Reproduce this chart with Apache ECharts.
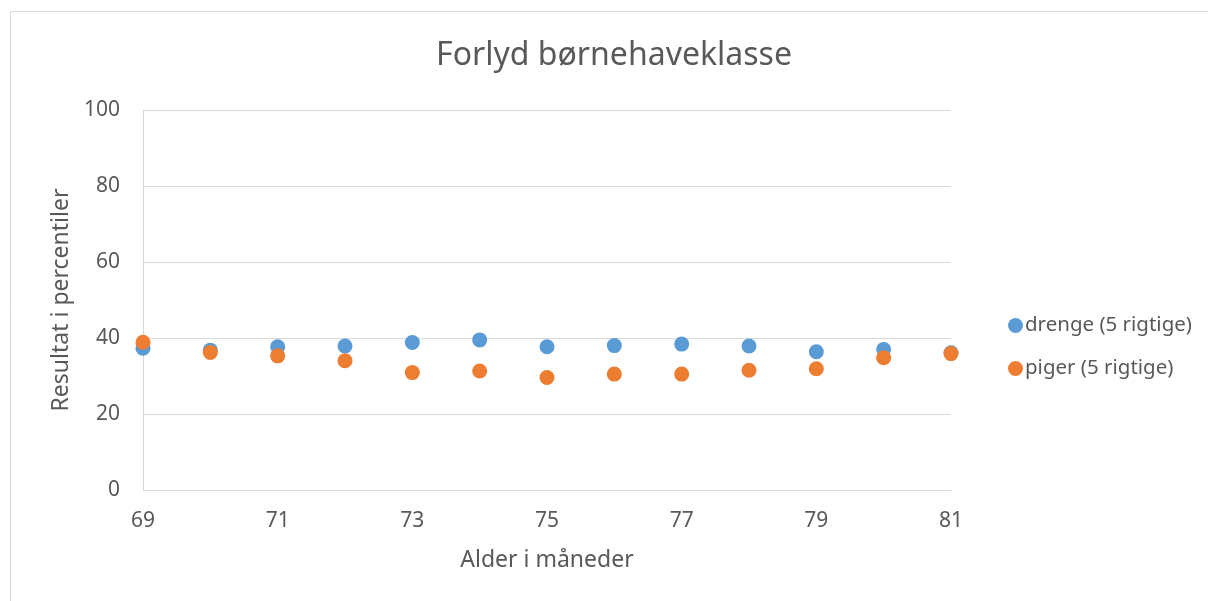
<!DOCTYPE html>
<html>
<head>
<meta charset="utf-8">
<script src="https://cdn.jsdelivr.net/npm/echarts@6/dist/echarts.min.js"></script>
<style>
html, body { margin: 0; padding: 0; background: #fff; }
#chart { width: 1208px; height: 601px; }
</style>
</head>
<body>
<div id="chart"></div>
<script>
const months = [69, 70, 71, 72, 73, 74, 75, 76, 77, 78, 79, 80, 81];
const drenge = [37.3, 36.8, 37.7, 37.9, 38.8, 39.5, 37.7, 38.0, 38.4, 37.9, 36.4, 37.0, 36.1];
const piger = [38.9, 36.2, 35.3, 34.0, 30.9, 31.3, 29.6, 30.5, 30.5, 31.5, 31.9, 34.8, 35.9];

const textColor = "#595959";
const font = "Noto Sans";

const chart = echarts.init(document.getElementById("chart"));
chart.setOption({
  animation: false,
  backgroundColor: "#fff",
  graphic: [
    {
      type: "rect",
      shape: { x: 10.5, y: 11.5, width: 1400, height: 800 },
      style: { fill: "none", stroke: "#d9d9d9", lineWidth: 1 },
      silent: true,
    },
  ],
  title: {
    text: "Forlyd børnehaveklasse",
    left: 609,
    textAlign: "center",
    top: 35,
    textStyle: { fontFamily: font, fontWeight: "normal", fontSize: 32, color: textColor },
  },
  legend: {
    orient: "vertical",
    left: 1003,
    top: 310,
    itemWidth: 15,
    itemHeight: 15,
    itemGap: 22,
    icon: "circle",
    textStyle: { fontFamily: font, fontSize: 20.5, color: textColor, padding: [0, 0, 0, -3] },
  },
  grid: { left: 143, right: 257, top: 110, bottom: 111 },
  xAxis: {
    type: "value",
    min: 69,
    max: 81,
    interval: 2,
    name: "Alder i måneder",
    nameLocation: "middle",
    nameGap: 59,
    nameTextStyle: { fontFamily: font, fontSize: 23, color: textColor },
    axisLine: { show: true, lineStyle: { color: "#d9d9d9", width: 1 } },
    axisTick: { show: false },
    splitLine: { show: false },
    axisLabel: { fontFamily: font, fontSize: 21, color: textColor, margin: 21 },
  },
  yAxis: {
    type: "value",
    min: 0,
    max: 100,
    interval: 20,
    name: "Resultat i percentiler",
    nameLocation: "middle",
    nameGap: 68,
    nameTextStyle: { fontFamily: font, fontSize: 23, color: textColor },
    axisLine: { show: true, lineStyle: { color: "#d9d9d9", width: 1 } },
    axisTick: { show: false },
    splitLine: { lineStyle: { color: "#d9d9d9", width: 1 } },
    axisLabel: { fontFamily: font, fontSize: 21, color: textColor, margin: 23 },
  },
  series: [
    {
      name: "drenge (5 rigtige)",
      type: "scatter",
      symbolSize: 15,
      itemStyle: { color: "#5b9bd5", opacity: 1 },
      data: months.map((m, i) => [m, drenge[i]]),
    },
    {
      name: "piger (5 rigtige)",
      type: "scatter",
      symbolSize: 15,
      itemStyle: { color: "#ed7d31", opacity: 1 },
      data: months.map((m, i) => [m, piger[i]]),
    },
  ],
});
</script>
</body>
</html>
